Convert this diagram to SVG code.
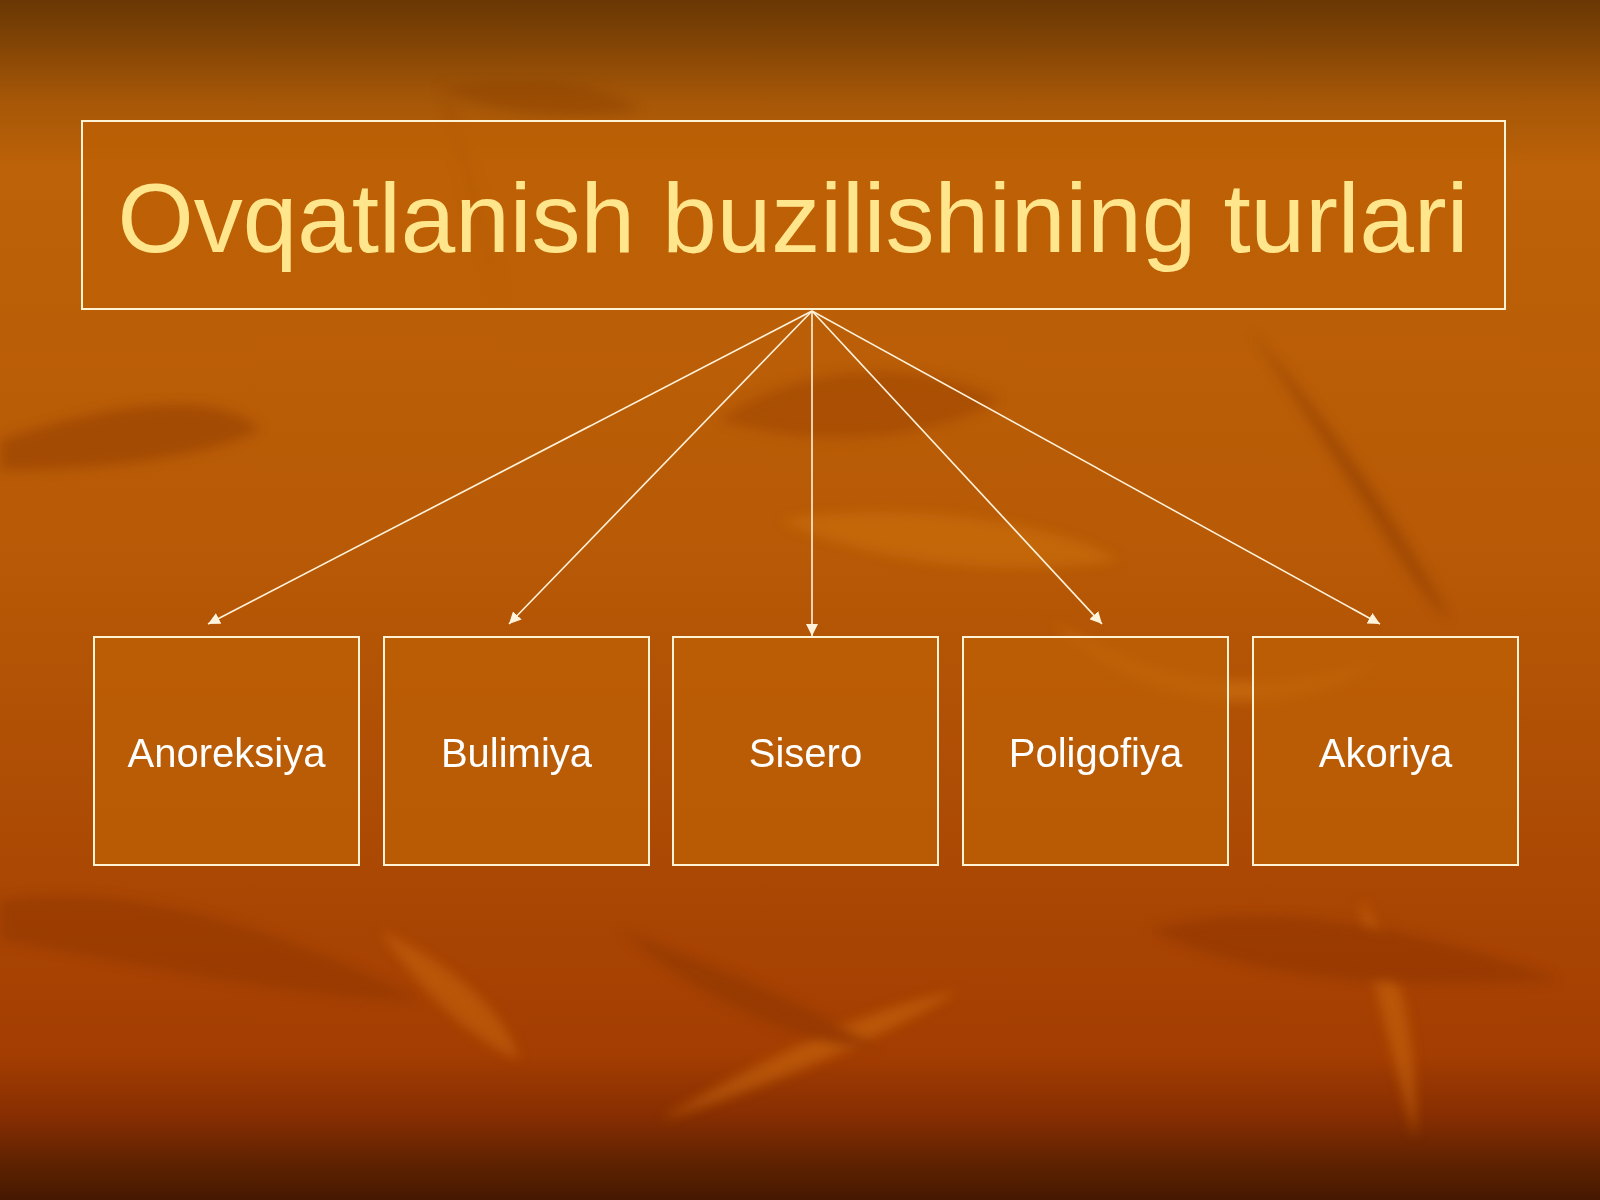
<svg xmlns="http://www.w3.org/2000/svg" width="1600" height="1200" viewBox="0 0 1600 1200">
<style>
.box{fill:#bd6006;fill-opacity:0.75;stroke:#fff3d6;stroke-width:2}
.lbl{font-family:"Liberation Sans",Arial,sans-serif;font-size:40px;fill:#ffffff;text-anchor:middle}
.title{font-family:"Liberation Sans",Arial,sans-serif;font-size:98px;fill:#ffe58c;text-anchor:middle}
.conn{stroke:#fff3dc;stroke-width:1.6;fill:none;marker-end:url(#arr)}
.leaf{filter:url(#soft)}
</style>
<defs>
<linearGradient id="bg" x1="0" y1="0" x2="0" y2="1">
<stop offset="0" stop-color="#6a3704"/>
<stop offset="0.03" stop-color="#7d4205"/>
<stop offset="0.08" stop-color="#a45607"/>
<stop offset="0.14" stop-color="#bd6208"/>
<stop offset="0.45" stop-color="#b85a06"/>
<stop offset="0.7" stop-color="#ac4a04"/>
<stop offset="0.88" stop-color="#a33d02"/>
<stop offset="0.93" stop-color="#872e02"/>
<stop offset="0.97" stop-color="#5e2201"/>
<stop offset="1" stop-color="#451800"/>
</linearGradient>
<filter id="soft" x="-20%" y="-20%" width="140%" height="140%"><feGaussianBlur stdDeviation="6"/></filter>
<marker id="arr" viewBox="0 0 10 10" refX="10" refY="5" markerWidth="12" markerHeight="12" markerUnits="userSpaceOnUse" orient="auto">
<path d="M0,0 L10,5 L0,10 Z" fill="#fff3dc"/>
</marker>
</defs>
<rect width="1600" height="1200" fill="url(#bg)"/>
<g id="background-leaves" opacity="0.5">
<path class="leaf" d="M0,440 C120,400 220,390 260,430 C200,460 90,470 0,470 Z" fill="#8e3a03"/>
<path class="leaf" d="M720,420 C800,360 930,360 1000,400 C930,440 820,450 720,420 Z" fill="#9a4203"/>
<path class="leaf" d="M780,520 C900,500 1050,520 1120,560 C1000,580 860,560 780,520 Z" fill="#cf7410"/>
<path class="leaf" d="M1250,330 C1330,420 1400,520 1450,620 C1420,600 1350,480 1250,330 Z" fill="#8a3a03"/>
<path class="leaf" d="M1050,620 C1150,680 1250,700 1380,660 C1300,720 1150,720 1050,620 Z" fill="#d57a12"/>
<path class="leaf" d="M0,900 C150,880 300,940 420,1000 C300,1000 120,960 0,940 Z" fill="#8e3402"/>
<path class="leaf" d="M380,930 C440,960 500,1000 520,1060 C470,1040 420,990 380,930 Z" fill="#cc6a0c"/>
<path class="leaf" d="M660,1120 C760,1060 860,1010 960,990 C880,1040 760,1090 660,1120 Z" fill="#d0700f"/>
<path class="leaf" d="M1360,900 C1400,950 1420,1050 1415,1140 C1395,1060 1370,980 1360,900 Z" fill="#cf6d0f"/>
<path class="leaf" d="M1150,930 C1250,900 1400,920 1560,980 C1400,990 1250,980 1150,930 Z" fill="#8c3302"/>
<path class="leaf" d="M620,930 C700,960 800,1000 880,1050 C780,1040 690,990 620,930 Z" fill="#8a3402"/>
<path class="leaf" d="M440,80 C470,150 490,230 500,300 C475,230 455,150 440,80 Z" fill="#9a4a05"/>
<path class="leaf" d="M440,90 C520,70 600,80 640,110 C580,120 500,115 440,90 Z" fill="#8e4204"/>
</g>
<g id="title">
<rect class="box" x="82" y="121" width="1423" height="188" fill-opacity="0.55"/>
<text class="title" x="793" y="252">Ovqatlanish buzilishining turlari</text>
</g>
<g id="connectors">
<line class="conn" x1="812" y1="311" x2="208" y2="624"/>
<line class="conn" x1="812" y1="311" x2="509" y2="624"/>
<line class="conn" x1="812" y1="311" x2="812" y2="636"/>
<line class="conn" x1="812" y1="311" x2="1102" y2="624"/>
<line class="conn" x1="812" y1="311" x2="1380" y2="624"/>
</g>
<g id="node-anoreksiya">
<rect class="box" x="94" y="637" width="265" height="228"/>
<text class="lbl" x="226.5" y="767">Anoreksiya</text>
</g>
<g id="node-bulimiya">
<rect class="box" x="384" y="637" width="265" height="228"/>
<text class="lbl" x="516.5" y="767">Bulimiya</text>
</g>
<g id="node-sisero">
<rect class="box" x="673" y="637" width="265" height="228"/>
<text class="lbl" x="805.5" y="767">Sisero</text>
</g>
<g id="node-poligofiya">
<rect class="box" x="963" y="637" width="265" height="228"/>
<text class="lbl" x="1095.5" y="767">Poligofiya</text>
</g>
<g id="node-akoriya">
<rect class="box" x="1253" y="637" width="265" height="228"/>
<text class="lbl" x="1385.5" y="767">Akoriya</text>
</g>
</svg>
